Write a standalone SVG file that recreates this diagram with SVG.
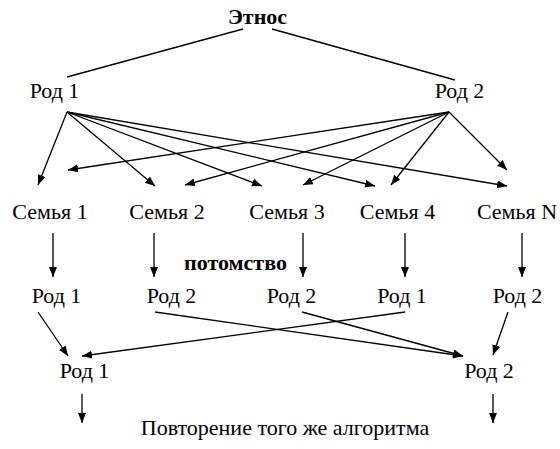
<svg xmlns="http://www.w3.org/2000/svg" width="560" height="449" viewBox="0 0 560 449">
<defs>
<marker id="ah" markerUnits="userSpaceOnUse" markerWidth="12" markerHeight="10" refX="10" refY="4" orient="auto">
<path d="M0,0 L10,4 L0,8 Z" fill="#000"/>
</marker>
<style>
.t text{font-size:22px;fill:#000;text-anchor:middle}
.b{font-weight:bold}
.c line{stroke:#000;stroke-width:1.3}
.c .a{marker-end:url(#ah)}
</style>
</defs>
<rect width="560" height="449" fill="#fff"/>
<g class="c" id="connectors">
<line x1="243" y1="29" x2="67" y2="77"/>
<line x1="272" y1="29" x2="455" y2="80"/>
<line class="a" x1="67" y1="112" x2="38" y2="185"/>
<line class="a" x1="67" y1="112" x2="155" y2="186"/>
<line class="a" x1="67" y1="112" x2="262" y2="186"/>
<line class="a" x1="67" y1="112" x2="375" y2="186"/>
<line class="a" x1="67" y1="112" x2="507" y2="186"/>
<line class="a" x1="449" y1="112" x2="68" y2="170"/>
<line class="a" x1="449" y1="112" x2="185" y2="185"/>
<line class="a" x1="449" y1="112" x2="303" y2="185"/>
<line class="a" x1="449" y1="112" x2="391" y2="185"/>
<line class="a" x1="449" y1="112" x2="507" y2="170"/>
<line class="a" x1="53" y1="233" x2="53" y2="277"/>
<line class="a" x1="154" y1="233" x2="154" y2="277"/>
<line class="a" x1="303" y1="233" x2="303" y2="277"/>
<line class="a" x1="405" y1="233" x2="405" y2="277"/>
<line class="a" x1="522" y1="233" x2="522" y2="277"/>
<line class="a" x1="38" y1="312" x2="68" y2="356"/>
<line class="a" x1="155" y1="312" x2="463" y2="356"/>
<line class="a" x1="302" y1="312" x2="463" y2="356"/>
<line class="a" x1="405" y1="312" x2="82" y2="356"/>
<line class="a" x1="508" y1="312" x2="493" y2="355"/>
<line class="a" x1="82" y1="394" x2="82" y2="423"/>
<line class="a" x1="493" y1="394" x2="493" y2="423"/>
</g>
<g class="t" font-family="Liberation Serif, Times New Roman, DejaVu Serif, serif">
<g id="etnos"><text class="b" x="257.5" y="24">Этнос</text></g>
<g id="rod1"><text x="54.5" y="98">Род 1</text></g>
<g id="rod2"><text x="459.5" y="98">Род 2</text></g>
<g id="semya1"><text x="50" y="219">Семья 1</text></g>
<g id="semya2"><text x="167" y="219">Семья 2</text></g>
<g id="semya3"><text x="287" y="219">Семья 3</text></g>
<g id="semya4"><text x="397.5" y="219">Семья 4</text></g>
<g id="semyaN"><text x="517" y="219">Семья N</text></g>
<g id="potomstvo"><text class="b" x="235.5" y="270">потомство</text></g>
<g id="c1"><text x="56.5" y="303">Род 1</text></g>
<g id="c2"><text x="171.5" y="303">Род 2</text></g>
<g id="c3"><text x="291.5" y="303">Род 2</text></g>
<g id="c4"><text x="402" y="303">Род 1</text></g>
<g id="c5"><text x="517.5" y="303">Род 2</text></g>
<g id="r1"><text x="84.5" y="378">Род 1</text></g>
<g id="r2"><text x="489" y="378">Род 2</text></g>
<g id="repeat"><text x="285" y="435">Повторение того же алгоритма</text></g>
</g>
</svg>
